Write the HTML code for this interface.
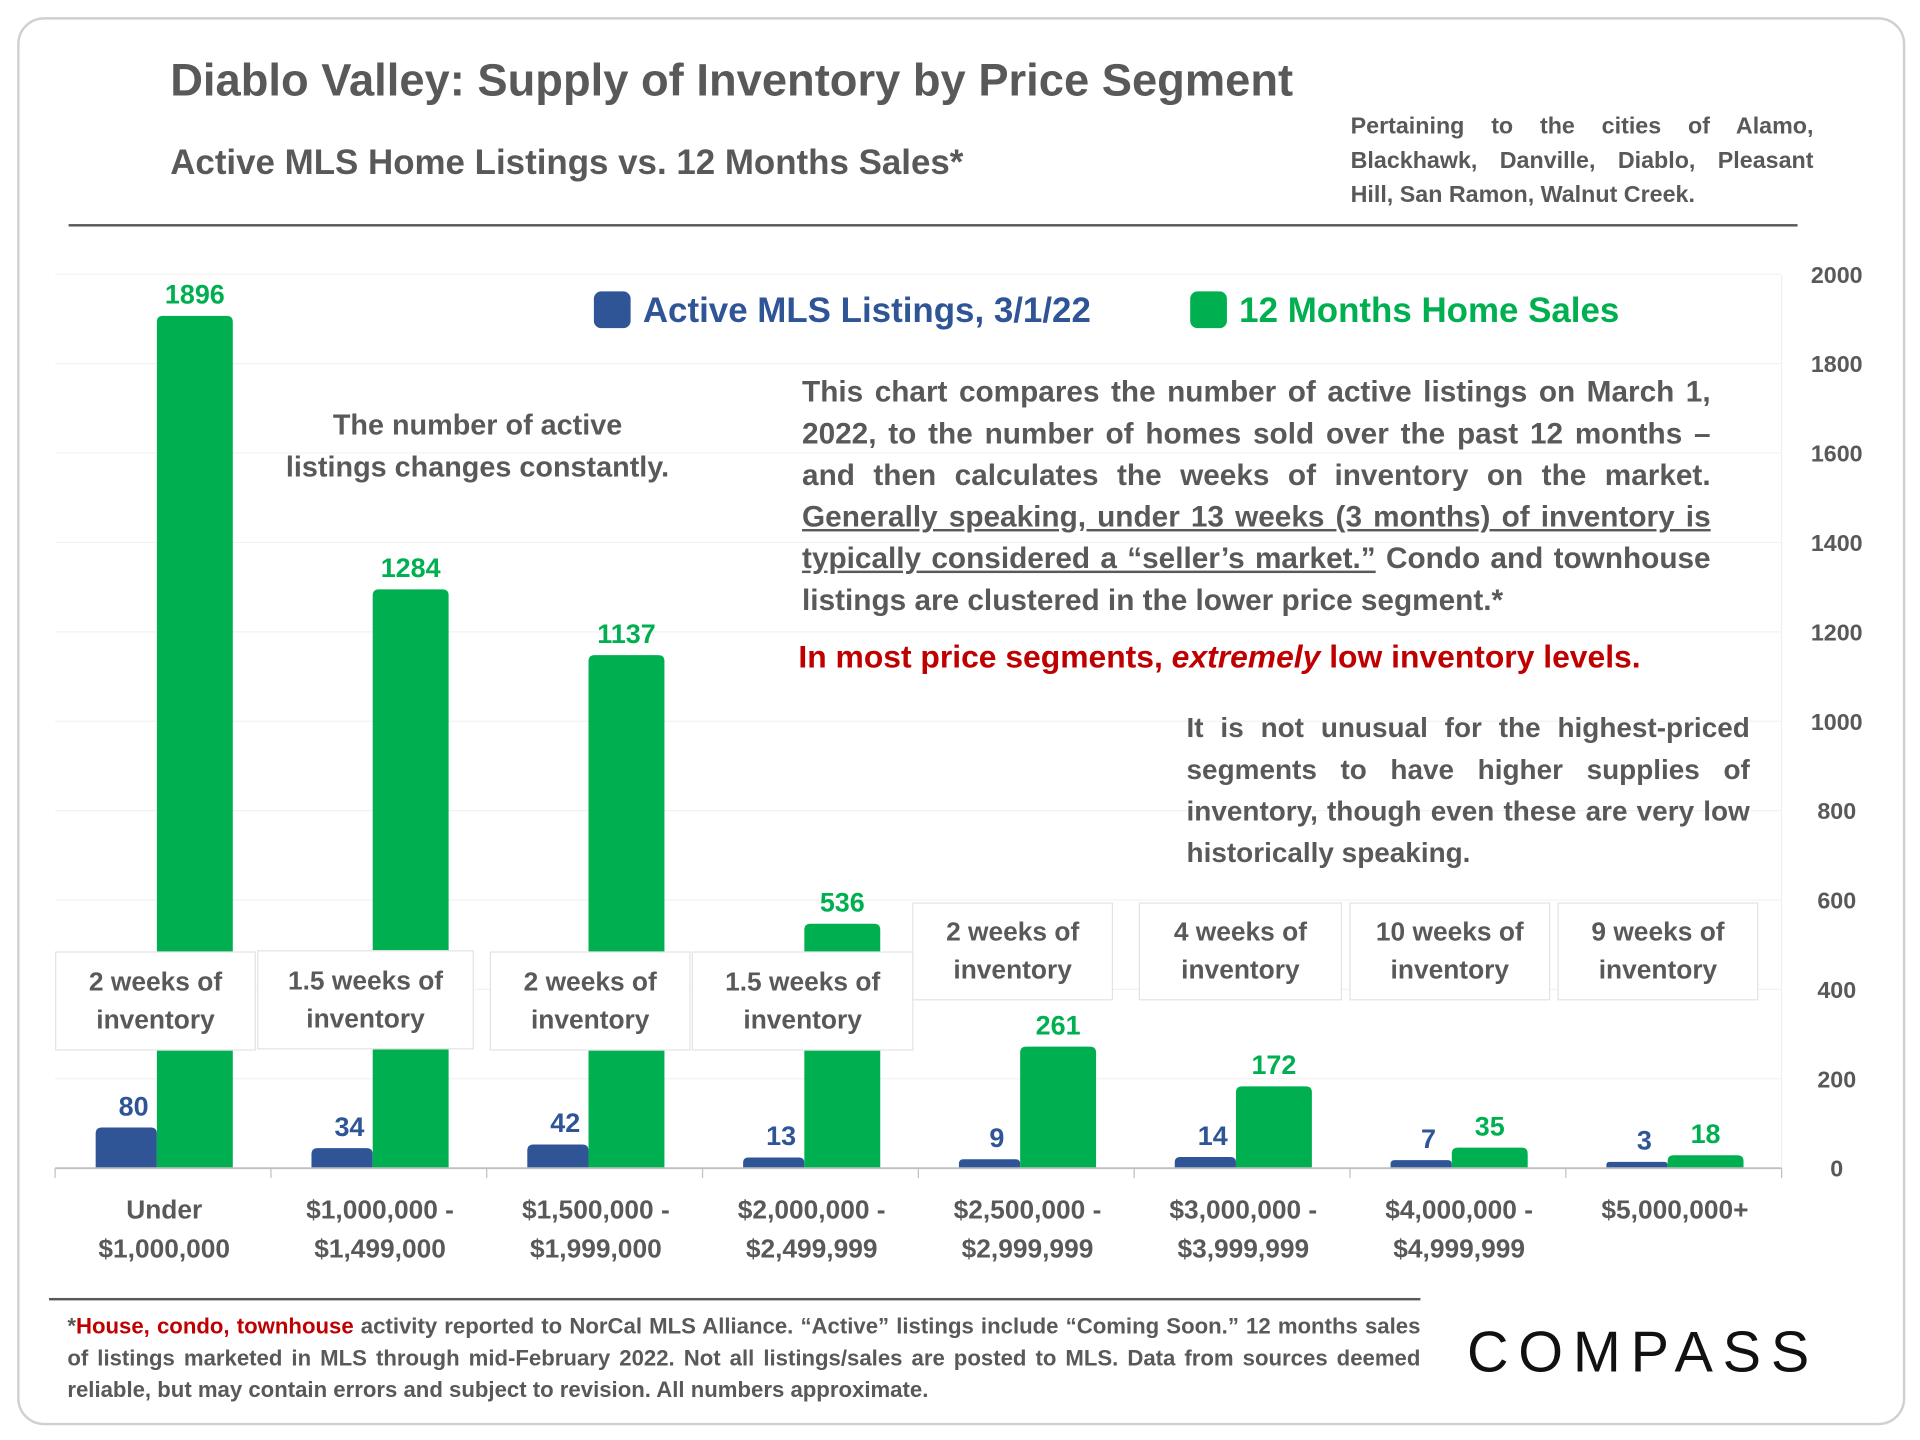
<!DOCTYPE html>
<html><head><meta charset="utf-8">
<style>
html,body{margin:0;padding:0;background:#fff;}
#wrap{width:1568px;height:1176px;position:relative;transform:scale(1.22449);transform-origin:0 0;font-family:"Liberation Sans",sans-serif;}
.t{position:absolute;white-space:nowrap;}
.box{position:absolute;background:#fff;border:1px solid #e3e3e3;color:#595959;font-weight:bold;font-size:21.5px;text-align:center;line-height:31px;display:flex;align-items:center;justify-content:center;}
</style></head><body>
<div id="wrap">
<div style="position:absolute;left:14px;top:14px;width:1538px;height:1146px;border:2px solid #d0d0d0;border-radius:22px;"></div>
<div class="t" style="left:139px;top:45px;font-size:37px;font-weight:bold;color:#595959;">Diablo Valley: Supply of Inventory by Price Segment</div>
<div class="t" style="left:139px;top:117px;font-size:28.5px;font-weight:bold;color:#595959;">Active MLS Home Listings vs. 12 Months Sales*</div>
<div class="t" style="left:1103px;top:90px;width:378px;white-space:normal;font-size:19px;font-weight:bold;color:#595959;line-height:28px;text-align:justify;">Pertaining to the cities of Alamo, Blackhawk, Danville, Diablo, Pleasant Hill, San Ramon, Walnut Creek.</div>
<div style="position:absolute;left:56px;top:183px;width:1412px;height:2px;background:#595959;"></div>
<svg id="chart" width="1568" height="1176" style="position:absolute;left:0;top:0;"></svg>
<div class="t" style="left:485px;top:238px;font-size:28.5px;font-weight:bold;color:#2f5597;"><span style="display:inline-block;width:30px;height:30px;background:#2f5597;border-radius:6px;vertical-align:-5px;margin-right:10px;"></span>Active MLS Listings, 3/1/22</div>
<div class="t" style="left:972px;top:238px;font-size:28.5px;font-weight:bold;color:#00b050;"><span style="display:inline-block;width:30px;height:30px;background:#00b050;border-radius:6px;vertical-align:-5px;margin-right:10px;"></span>12 Months Home Sales</div>
<div class="t" style="left:225px;top:330px;width:330px;white-space:normal;text-align:center;font-size:23.5px;font-weight:bold;color:#595959;line-height:34px;">The number of active<br>listings changes constantly.</div>
<div class="t" style="left:655px;top:304px;width:742px;white-space:normal;text-align:justify;font-size:24.3px;font-weight:bold;color:#595959;line-height:34px;">This chart compares the number of active listings on March 1, 2022, to the number of homes sold over the past 12 months – and then calculates the weeks of inventory on the market. <u>Generally speaking, under 13 weeks (3 months) of inventory is typically considered a “seller’s market.”</u> Condo and townhouse listings are clustered in the lower price segment.*</div>
<div class="t" style="left:652px;top:521px;font-size:26px;font-weight:bold;color:#c00000;">In most price segments, <i>extremely</i> low inventory levels.</div>
<div class="t" style="left:969px;top:577px;width:460px;white-space:normal;text-align:justify;font-size:22.8px;font-weight:bold;color:#595959;line-height:34px;">It is not unusual for the highest-priced segments to have higher supplies of inventory, though even these are very low historically speaking.</div>
<div class="box" style="left:45px;top:777px;width:162px;height:79px;">2 weeks of<br>inventory</div>
<div class="box" style="left:210px;top:776px;width:175px;height:79px;">1.5 weeks of<br>inventory</div>
<div class="box" style="left:400px;top:777px;width:162px;height:79px;">2 weeks of<br>inventory</div>
<div class="box" style="left:565px;top:777px;width:179px;height:79px;">1.5 weeks of<br>inventory</div>
<div class="box" style="left:745px;top:737px;width:162px;height:78px;">2 weeks of<br>inventory</div>
<div class="box" style="left:930px;top:737px;width:164px;height:78px;">4 weeks of<br>inventory</div>
<div class="box" style="left:1102px;top:737px;width:162px;height:78px;">10 weeks of<br>inventory</div>
<div class="box" style="left:1272px;top:737px;width:162px;height:78px;">9 weeks of<br>inventory</div>
<div style="position:absolute;left:40px;top:1060px;width:1120px;height:2px;background:#595959;"></div>
<div class="t" style="left:55px;top:1070px;width:1105px;white-space:normal;text-align:justify;font-size:18.1px;font-weight:bold;color:#595959;line-height:26px;">*<span style="color:#c00000;">House, condo, townhouse</span> activity reported to NorCal MLS Alliance. “Active” listings include “Coming Soon.” 12 months sales of listings marketed in MLS through mid-February 2022. Not all listings/sales are posted to MLS. Data from sources deemed reliable, but may contain errors and subject to revision.  All numbers approximate.</div>
<div class="t" style="left:1198px;top:1076px;font-size:47px;letter-spacing:8px;color:#111;font-weight:normal;">COMPASS</div>
</div>
<script>
const categories=["Under|$1,000,000","$1,000,000 -|$1,499,000","$1,500,000 -|$1,999,000","$2,000,000 -|$2,499,999","$2,500,000 -|$2,999,999","$3,000,000 -|$3,999,999","$4,000,000 -|$4,999,999","$5,000,000+"];
const activeListings=[80,34,42,13,9,14,7,3];
const homeSales=[1896,1284,1137,536,261,172,35,18];
const yTicks=[0,200,400,600,800,1000,1200,1400,1600,1800,2000];
const NS="http://www.w3.org/2000/svg";
const svg=document.getElementById('chart');
const x0=45,x1=1455,y0=954,yTop=224,yMax=2000;
const y=v=>y0-(v/yMax)*(y0-yTop);
const bw=(x1-x0)/categories.length;
const cx=i=>x0+bw*(i+0.5);
function mk(tag,attrs){const e=document.createElementNS(NS,tag);for(const k in attrs)e.setAttribute(k,attrs[k]);svg.appendChild(e);return e;}
yTicks.forEach(t=>{
  if(t>0){const g=mk('line',{x1:x0,x2:x1,y1:y(t),y2:y(t),stroke:'#f2f2f2','stroke-width':1});
  
  }
  const l=mk('text',{x:1500,y:y(t)+7,'text-anchor':'middle','font-size':19,'font-weight':'bold',fill:'#595959','font-family':'Liberation Sans, sans-serif'});
  l.textContent=t;
  
  
});
mk('line',{x1:1455,x2:1455,y1:225,y2:953,stroke:'#f0f0f0'});
function bar(x,w,v,color,name){
  const top=y(v)-4,h=y0-top,r=Math.min(5,h/2);
  const p=mk('path',{d:`M${x},${y0}V${top+r}Q${x},${top} ${x+r},${top}H${x+w-r}Q${x+w},${top} ${x+w},${top+r}V${y0}Z`,fill:color});
  
  
}
categories.forEach((c,i)=>{
  const c0=cx(i);
  bar(c0-55,50,activeListings[i],'#2f5597','bar-active');
  bar(c0-5,62,homeSales[i],'#00b050','bar-sales');
  const la=mk('text',{x:c0-24,y:y(activeListings[i])-14,'text-anchor':'middle','font-size':22,'font-weight':'bold',fill:'#2f5597','font-family':'Liberation Sans, sans-serif'});
  la.textContent=activeListings[i];
  
  
  const ls=mk('text',{x:c0+26,y:y(homeSales[i])-14,'text-anchor':'middle','font-size':22,'font-weight':'bold',fill:'#00b050','font-family':'Liberation Sans, sans-serif'});
  ls.textContent=homeSales[i];
  
  
  c.split('|').forEach((line,j)=>{
    const t=mk('text',{x:c0+1,y:995+j*32,'text-anchor':'middle','font-size':21.5,'font-weight':'bold',fill:'#595959','font-family':'Liberation Sans, sans-serif'});
    t.textContent=line;
    
    
  });
  mk('line',{x1:x0+bw*i,x2:x0+bw*i,y1:y0,y2:y0+8,stroke:'#bfbfbf'});
});
mk('line',{x1:x0+bw*8,x2:x0+bw*8,y1:y0,y2:y0+8,stroke:'#bfbfbf'});
const ax=mk('line',{x1:x0,x2:x1,y1:y0,y2:y0,stroke:'#bfbfbf','stroke-width':1.5});


</script>
</body></html>
